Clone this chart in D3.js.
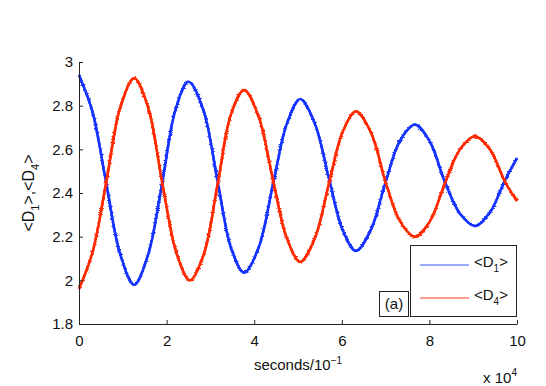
<!DOCTYPE html>
<html lang="en">
<head>
    <meta charset="UTF-8">
    <title>D1 D4</title>
    <style>
        body { margin: 0; background: #fff; }
        svg { display: block; font-family: "Liberation Sans", Arial, Helvetica, sans-serif; }
        .axis path, .axis line { stroke: #222; }
        .axis text { font-size: 15px; fill: #111; }
    </style>
</head>
<body>
    <script src="https://cdnjs.cloudflare.com/ajax/libs/d3/7.8.5/d3.min.js"></script>
    <script>
        // time in units of 10^4 (seconds/10^-1)
        const d1X = [0, 0.31, 0.62, 0.94, 1.26, 1.58, 1.90, 2.20, 2.50, 2.84, 3.17, 3.47, 3.77, 4.10, 4.44, 4.75,
                     5.05, 5.38, 5.72, 6.02, 6.32, 6.66, 7.00, 7.33, 7.67, 8.01, 8.36, 8.70, 9.04, 9.38, 9.73, 10];
        const d1Y = [2.94, 2.77, 2.447, 2.12, 1.98, 2.12, 2.447, 2.78, 2.91, 2.78, 2.447, 2.15, 2.035, 2.15, 2.45, 2.72,
                     2.83, 2.72, 2.455, 2.23, 2.135, 2.23, 2.45, 2.64, 2.713, 2.635, 2.447, 2.305, 2.249, 2.31, 2.46, 2.56];
        const d4X = [0, 0.31, 0.62, 0.94, 1.26, 1.58, 1.90, 2.22, 2.53, 2.85, 3.17, 3.47, 3.77, 4.10, 4.44, 4.75,
                     5.05, 5.38, 5.72, 6.02, 6.32, 6.66, 7.00, 7.33, 7.67, 8.01, 8.36, 8.70, 9.04, 9.38, 9.73, 10];
        const d4Y = [1.96, 2.13, 2.447, 2.79, 2.926, 2.79, 2.447, 2.13, 2.0, 2.12, 2.447, 2.76, 2.872, 2.75, 2.45, 2.19,
                     2.085, 2.19, 2.455, 2.68, 2.773, 2.68, 2.45, 2.27, 2.2, 2.27, 2.447, 2.60, 2.66, 2.60, 2.45, 2.363];
        const xTicks = [0, 2, 4, 6, 8, 10];
        const yTicks = [1.8, 2, 2.2, 2.4, 2.6, 2.8, 3];

        const w = 546, h = 386;
        const mLeft = 79, mRight = 517, mTop = 62, mBottom = 324;

        const svg = d3.select("body").append("svg")
            .attr("width", w)
            .attr("height", h);

        // slight raggedness, like the noisy traces in the original
        const filt = svg.append("defs").append("filter").attr("id", "rough")
            .attr("x", "-5%").attr("y", "-5%").attr("width", "110%").attr("height", "110%");
        filt.append("feTurbulence").attr("type", "fractalNoise").attr("baseFrequency", "0.3 1.5")
            .attr("numOctaves", 1).attr("seed", 3).attr("result", "noise");
        filt.append("feDisplacementMap").attr("in", "SourceGraphic").attr("in2", "noise")
            .attr("scale", 3.5).attr("xChannelSelector", "R").attr("yChannelSelector", "G");

        const x = d3.scaleLinear().domain([0, 10]).range([mLeft, mRight]);
        const y = d3.scaleLinear().domain([1.8, 3]).range([mBottom, mTop]);

        const line = d3.line()
            .x(d => x(d[0]))
            .y(d => y(d[1]))
            .curve(d3.curveCatmullRom.alpha(0.5));

        const series = [
            { xs: d1X, ys: d1Y, color: "#1533ff" },
            { xs: d4X, ys: d4Y, color: "#ff2a00" }
        ];
        series.forEach(s => {
            const pts = s.xs.map((v, i) => [v, s.ys[i]]);
            svg.append("path")
                .datum(pts)
                .attr("d", line)
                .attr("fill", "none")
                .attr("stroke", s.color)
                .attr("stroke-width", 2.4);
            svg.append("path")
                .datum(pts)
                .attr("d", line)
                .attr("fill", "none")
                .attr("stroke", s.color)
                .attr("stroke-width", 2.6)
                .attr("filter", "url(#rough)");
        });

        const xAxis = d3.axisBottom(x).tickValues(xTicks).tickSizeInner(-4).tickSizeOuter(0).tickPadding(11);
        const yAxis = d3.axisLeft(y).tickValues(yTicks).tickSizeInner(-4).tickSizeOuter(0).tickPadding(6)
            .tickFormat(d3.format(".1~f"));

        svg.append("g").attr("class", "axis")
            .attr("transform", "translate(0," + mBottom + ")")
            .call(xAxis);
        svg.append("g").attr("class", "axis")
            .attr("transform", "translate(" + mLeft + ",0)")
            .call(yAxis);

        // axis labels
        const xl = svg.append("text").attr("x", 298).attr("y", 370).attr("text-anchor", "middle")
            .attr("font-size", 15).attr("fill", "#111");
        xl.append("tspan").text("seconds/10");
        xl.append("tspan").attr("dy", -6).attr("font-size", 10).text("\u22121");

        const ex = svg.append("text").attr("x", 517).attr("y", 383).attr("text-anchor", "end")
            .attr("font-size", 15).attr("fill", "#111");
        ex.append("tspan").text("x 10");
        ex.append("tspan").attr("dy", -7).attr("font-size", 10).text("4");

        const yl = svg.append("text")
            .attr("transform", "translate(34," + ((mTop + mBottom) / 2) + ") rotate(-90)")
            .attr("text-anchor", "middle").attr("font-size", 16).attr("fill", "#111");
        yl.append("tspan").text("<D");
        yl.append("tspan").attr("dy", 5).attr("font-size", 11).text("1");
        yl.append("tspan").attr("dy", -5).text(">,<D");
        yl.append("tspan").attr("dy", 5).attr("font-size", 11).text("4");
        yl.append("tspan").attr("dy", -5).text(">");

        // (a) box
        svg.append("rect").attr("x", 379.5).attr("y", 291.5).attr("width", 29).attr("height", 25)
            .attr("fill", "#fff").attr("stroke", "#222");
        svg.append("text").attr("x", 394).attr("y", 309).attr("text-anchor", "middle")
            .attr("font-size", 15).attr("fill", "#111").text("(a)");

        // legend
        const legend = [
            { name: "D", sub: "1", color: "#3a55ff" },
            { name: "D", sub: "4", color: "#ff3a1a" }
        ];
        svg.append("rect").attr("x", 410.5).attr("y", 245.5).attr("width", 106).attr("height", 71)
            .attr("fill", "#fff").attr("stroke", "#222");
        legend.forEach((l, i) => {
            const ly = 265 + i * 33;
            svg.append("line").attr("x1", 420).attr("x2", 469).attr("y1", ly).attr("y2", ly)
                .attr("stroke", l.color).attr("stroke-width", 1);
            const t = svg.append("text").attr("x", 474).attr("y", ly + 2)
                .attr("font-size", 15).attr("fill", "#111");
            t.append("tspan").text("<" + l.name);
            t.append("tspan").attr("dy", 5).attr("font-size", 10).text(l.sub);
            t.append("tspan").attr("dy", -5).text(">");
        });
    </script>
</body>
</html>
